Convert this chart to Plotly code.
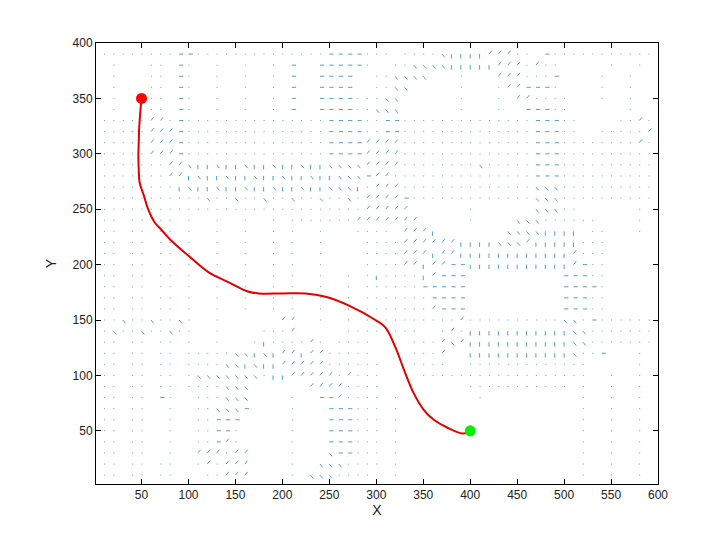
import plotly.graph_objects as go

# quiver grid (x = 10..590, y = 390..10), one char per arrow
# '.' tiny, '-' horizontal, '|' vertical, '/' up-right, 'b' down-right, ' ' none
grid_x = list(range(10, 600, 10))
grid_y = list(range(390, 0, -10))

L = ".. .. .. .  .  .  . "
P = " .   .. -.  .  .  . -  ----"
B = ".. ..  .  "
field_rows = [
    "........--..............----... ....b||||///.. -...........",                 # 390
    " .   .. -.  .  .  . -  -----.  ..bbbb|||||///./..     .  . ",                 # 380
    P + "  ..bbbb   .   ///...-    .  . ",                                             # 370
    P + "  ..bb     .   .//---.    .  . ",                                             # 360
    P + "...bb      .   . //....   .  . ",                                             # 350
    P + "..bbb      .   .  ---..      . ",                                             # 340
    ".....//.-...............----..--..............---..    ../.",                 # 330
    ".....///-...............----..--..............---..  ...../",                 # 320
    ".....///-...............----////..............---......../.",                 # 310
    ".....///-...............----////..............---..........",                 # 300
    ".......//" + "b||b||b||b||b||b" + "bbb" + "////" + "........" + "b" + "....." + "---" + "..........",   # 290
    ".......//" + "|b||b||b||b||b||" + "bbb" + "-//." + ".............." + "---" + "..........",            # 280
    "........" + "|b||b||b||b||b||b" + "bb|" + ".///" + ".............." + "bbb" + "..........",            # 270
    "........." + "..b..b..b..b..b..b." + "////" + "-" + "............." + "bbb" + "..........",           # 260
    "............................" + "/////" + "      " + "." + "      " + "bbb" + ".." + "      " + ". ",   # 250
    L + "......." + "///////" + "     " + "." + "    " + "bbb" + "......" + "    " + ". ",                   # 240
    L + ".  .   " + "...." + " " + "///" + "|" + "       " + "bbbb" + "||||" + " " + ".." + "   " + ". ",     # 230
    L + ".  .    " + "...." + "//////" + "||||" + "bbb" + "/" + "|||||" + "..." + "     ",                # 220
    L + ".  .    " + "...." + "///|//" + "||||||||||||" + "/" + "..." + "     ",                           # 210
    L + ".  .    " + "...." + "//|//--" + "|||||||||||" + "/" + "-" + ".." + "     ",                       # 200
    L + ".  .  . " + ".|...." + "|/" + "---" + "          " + "---" + ".." + "     ",                       # 190
    L + ".  .  . " + "......" + "-----" + "          " + "----" + "." + "     ",                           # 180
    L + ".  .  . " + "......." + "----" + "          " + "---" + ".." + "     ",                          # 170
    L + ".  .  . " + "......." + "/---" + "          " + "---" + ".." + "     ",                          # 160
    "..b..b..b." + "  ." + "      " + "//" + "  ." + "  ." + " " + ".........." + "/" + ".........." + "bb" + "." + "-" + "......",  # 150
    ".b..b..b.." + "  ." + "    " + "..." + "/" + "     " + ".." + "......" + "  " + "./." + "|||||||||||" + "bb" + ".......",     # 140
    ".. .. .. ." + "  ." + "   " + ".|.." + "../." + " " + "...." + "    " + ".../b/" + "|||||||||||" + "bb" + ".......",         # 130
    ".. .. .. ." + "....bb|b|/" + "/|//." + "...." + "    " + ".../" + "  " + "|||||||||||" + "b" + ".." + "-" + "   " + ". ",   # 120
    ".. .. .. ." + "...bb|b||/" + "////." + "....." + "   " + "...." + "  " + "............." + "     " + ". ",                # 110
    ".. .. .. ." + "bbbbbbb" + ".||" + "/////" + "./.." + "." + "    " + "......" + "............" + "  " + "." + "  " + ". ",  # 100
    ".. .. .. ." + "...bbb" + "      " + "////" + "...." + "         " + "..........." + " " + "." + "  " + "." + "  " + ". ",  # 90
    ".. .. -." + "  " + "...bbb" + "    " + "." + "  " + "--/" + "...." + " " + "." + "        " + "." + "          " + "." + "  " + "." + "  " + ". ",  # 80
    B + "..bbb-" + "    .   " + "---" + "..." + " ." + " " * 19 + "." + "  ." + "  ." + " ",   # 70
    B + "..--- " + "    .   " + "---" + "..." + " ." + " " * 19 + "." + "  ." + "  ." + " ",   # 60
    B + "..--. " + "    .   " + "---" + "..." + " ." + " " * 19 + "." + "  ." + "  ." + " ",   # 50
    B + "..-/. " + "    .   " + "---" + "..." + " ." + " " * 19 + "." + "  ." + "  ." + " ",   # 40
    B + "///.//" + "    .   " + "b--" + "..." + " ." + " " * 19 + "." + "  ." + "  ." + " ",   # 30
    ".. .. ..  " + "././//" + "    .  b" + "bb." + "..." + " ." + " " * 19 + "." + "  ." + "  ." + " ",   # 20
    ".. .. ..  " + " ..///" + "    . bb" + "b.." + ".. " + " ." + " " * 19 + "." + "  ." + "  ." + " ",   # 10
]

# planned path
path_x = [50, 48.9, 47.4, 47, 46.6, 47, 48, 52.6, 57, 64, 71.6, 82.3, 100, 121.5, 142.8,
          162.3, 174.8, 200, 224.5, 245.9, 270.9, 299, 310, 320.5, 329.5, 339.8, 350.5,
          361.2, 375.4, 393, 400]
path_y = [350, 340, 322, 310, 298, 286, 274, 262, 250, 238, 231, 221, 208, 193, 184,
          176, 174, 174, 174, 171, 163, 150, 143, 125, 105, 84, 69, 60, 53, 47.5, 50]

start_pt = (50, 350)
goal_pt = (400, 50)

steps = {".": (1.0, 0), "-": (4.5, 0), "|": (0, -4), "/": (3, 3), "b": (3, -3)}

qx, qy = [], []
for y, row in zip(grid_y, field_rows):
    row = row.ljust(len(grid_x))[:len(grid_x)]
    for x, ch in zip(grid_x, row):
        if ch not in steps:
            continue
        dx, dy = steps[ch]
        qx += [x, x + dx, None]
        qy += [y, y + dy, None]

fig = go.Figure()
fig.add_trace(go.Scatter(x=qx, y=qy, mode="lines",
                         line=dict(color="#0072BD", width=0.8), opacity=0.85,
                         hoverinfo="skip"))
fig.add_trace(go.Scatter(x=path_x, y=path_y, mode="lines",
                         line=dict(color="#E00000", width=2, shape="spline")))
fig.add_trace(go.Scatter(x=[start_pt[0]], y=[start_pt[1]], mode="markers",
                         marker=dict(color="#FF0000", size=11)))
fig.add_trace(go.Scatter(x=[goal_pt[0]], y=[goal_pt[1]], mode="markers",
                         marker=dict(color="#00EE00", size=11)))

axis_style = dict(showgrid=False, zeroline=False, showline=True, mirror="ticks",
                  linecolor="black", linewidth=1, ticks="inside", ticklen=5,
                  tickcolor="black", tickfont=dict(size=12, color="#222"))
fig.update_xaxes(range=[1.5, 600], tickvals=list(range(50, 601, 50)),
                 title=dict(text="X", standoff=2, font=dict(size=14, color="#222")), **axis_style)
fig.update_yaxes(range=[2, 400], tickvals=list(range(50, 401, 50)),
                 title=dict(text="Y", standoff=12, font=dict(size=14, color="#222")), **axis_style)
fig.update_layout(width=724, height=543, showlegend=False,
                  margin=dict(l=88, r=74, t=35, b=67),
                  paper_bgcolor="white", plot_bgcolor="white",
                  font=dict(family="Liberation Sans, Arial, sans-serif"))
fig.write_html("out.html")
